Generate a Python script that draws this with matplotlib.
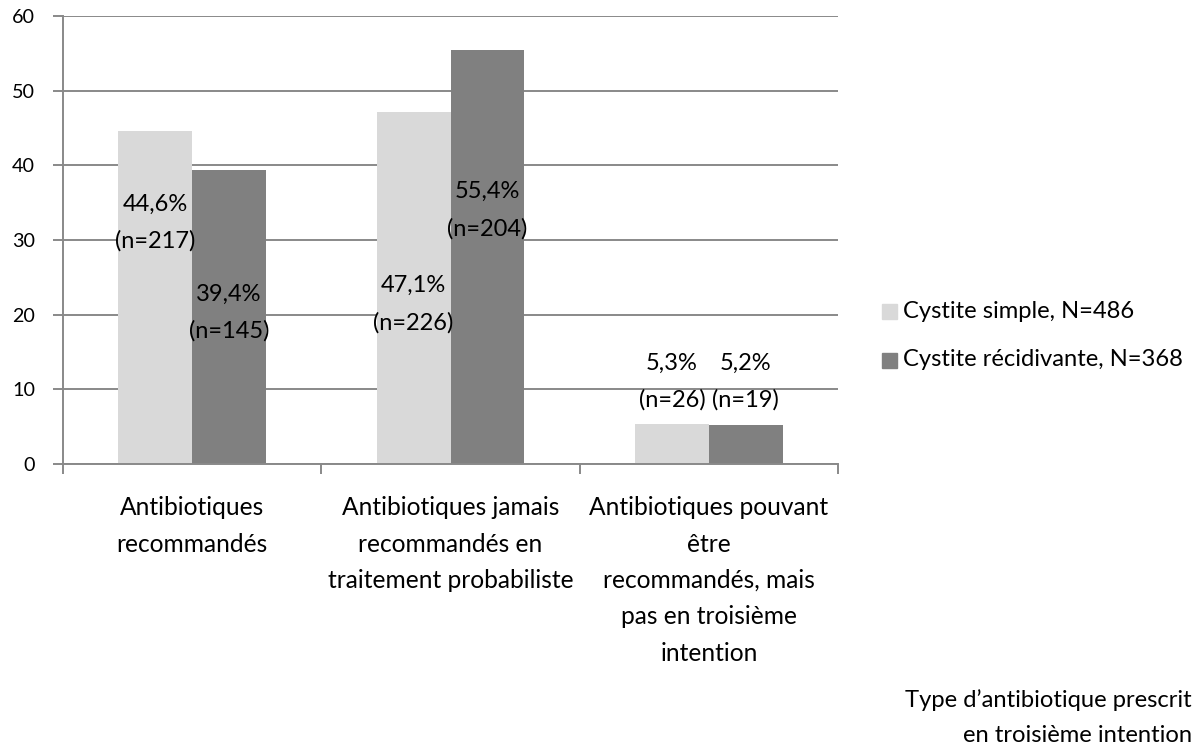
import numpy as np
import matplotlib
matplotlib.use("Agg")
import matplotlib.pyplot as plt
from matplotlib.patches import Rectangle
from matplotlib.transforms import blended_transform_factory
from matplotlib.font_manager import FontProperties

# data
categories = ["Antibiotiques\nrecommandés",
              "Antibiotiques jamais\nrecommandés en\ntraitement probabiliste",
              "Antibiotiques pouvant\nêtre\nrecommandés, mais\npas en troisième\nintention"]
simple_vals = [44.6, 47.1, 5.3]
recid_vals = [39.4, 55.4, 5.2]
simple_n = [217, 226, 26]
recid_n = [145, 204, 19]
series_names = ["Cystite simple, N=486", "Cystite récidivante, N=368"]
colors = ["#D9D9D9", "#808080"]
xlabel = "Type d\u2019antibiotique prescrit\nen troisième intention"

# where the labels sit (placed by hand in the original chart)
simple_lab_y = [32.3, 21.4, 11.0]
recid_lab_y = [20.3, 34.0, 11.0]

FONT = ['Lato', 'DejaVu Sans']
plt.rcParams['font.family'] = FONT

W, H = 1198, 749


def fit_size(fig, s, target_px):
    # font size (pt) so that the text s is target_px wide
    r = fig.canvas.get_renderer()
    t = fig.text(0, 0, s, fontsize=10)
    w = t.get_window_extent(r).width
    t.remove()
    return 10 * target_px / w


def ascent(fig, size):
    r = fig.canvas.get_renderer()
    fp = FontProperties(family=FONT, size=size)
    _, h, d = r.get_text_width_height_descent("lp", fp, ismath=False)
    return h - d


def lab(v, n):
    return "%s%%\n(n=%d)" % (("%.1f" % v).replace('.', ','), n)


def main():
    fig = plt.figure(figsize=(W / 100, H / 100), dpi=100)
    ax = fig.add_axes([63 / W, 1 - 464 / H, (838 - 63) / W, (464 - 16) / H])

    fs_tick = fit_size(fig, "traitement probabiliste", 247)
    fs_lab = fit_size(fig, "(n=226)", 81)
    fs_leg = fit_size(fig, series_names[1], 280)
    fs_y = fit_size(fig, "60", 23)

    x = np.arange(len(categories))
    w = 0.286
    ax.bar(x - w/2, simple_vals, w, color=colors[0], zorder=2)
    ax.bar(x + w/2, recid_vals, w, color=colors[1], zorder=2)

    ls_lab = 32 / ascent(fig, fs_lab)
    for i in range(len(x)):
        ax.text(x[i] - w/2, simple_lab_y[i], lab(simple_vals[i], simple_n[i]),
                ha="center", va="center", fontsize=fs_lab, linespacing=ls_lab, zorder=3)
        ax.text(x[i] + w/2, recid_lab_y[i], lab(recid_vals[i], recid_n[i]),
                ha="center", va="center", fontsize=fs_lab, linespacing=ls_lab, zorder=3)

    ax.set_xlim(-0.5, len(x) - 0.5)
    ax.set_ylim(0, 60)
    ax.set_yticks(range(0, 61, 10))
    ax.yaxis.grid(True, color="#898989", linewidth=1.4, zorder=0)
    ax.set_axisbelow(True)

    # category labels under the axis
    ax.set_xticks(np.arange(-0.5, len(x), 1))
    ax.set_xticklabels([])
    ax.tick_params(axis="x", length=7, color="#898989", width=1.4)
    ax.tick_params(axis="y", length=7, color="#898989", width=1.4, labelsize=fs_y, pad=13)
    tr = blended_transform_factory(ax.transData, fig.transFigure)
    a_t = ascent(fig, fs_tick)
    for i in range(len(x)):
        ax.text(x[i], 1 - (515 - a_t) / H, categories[i], transform=tr, ha="center", va="top",
                multialignment="center", fontsize=fs_tick, linespacing=32.5 / a_t)

    for s in ["top", "right"]:
        ax.spines[s].set_visible(False)
    for s in ["left", "bottom"]:
        ax.spines[s].set_color("#898989")
        ax.spines[s].set_linewidth(1.4)

    # legend
    leg_y = [311, 360]
    for i in range(2):
        fig.patches.append(Rectangle((882 / W, 1 - (leg_y[i] + 7.5) / H), 15 / W, 15 / H,
                                     transform=fig.transFigure, color=colors[i]))
        fig.text(903 / W, 1 - leg_y[i] / H, series_names[i], ha="left", va="center", fontsize=fs_leg)

    a_l = ascent(fig, fs_leg)
    fig.text(1192 / W, 1 - (706 - a_l) / H, xlabel, ha="right", va="top", multialignment="right",
             fontsize=fs_leg, linespacing=31 / a_l)

    fig.savefig("out.png", dpi=100)


if __name__ == "__main__":
    main()
